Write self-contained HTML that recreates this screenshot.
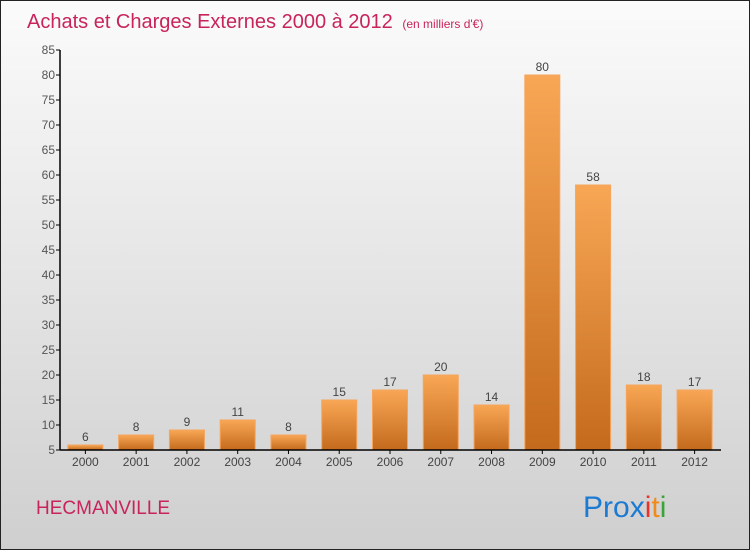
<!DOCTYPE html>
<html><head><meta charset="utf-8"><style>
body{margin:0;width:750px;height:550px;overflow:hidden;font-family:"Liberation Sans",sans-serif}
#wrap{position:relative;width:748px;height:548px;border:1px solid #222;background:linear-gradient(#fbfbfb,#cfcfcf)}
</style></head><body>
<div id="wrap">
<svg id="svg" width="748" height="548" style="position:absolute;left:0;top:0">
<defs><linearGradient id="bg" x1="0" y1="0" x2="0" y2="1"><stop offset="0" stop-color="#f8a755"/><stop offset="1" stop-color="#c46a1d"/></linearGradient></defs>
<text x="26" y="27" font-size="20" fill="#c8245a">Achats et Charges Externes 2000 à 2012 <tspan font-size="12" dx="4">(en milliers d'€)</tspan></text>
<text x="35" y="513" font-size="19" fill="#c8245a">HECMANVILLE</text>
<text x="582" y="516" font-size="30"><tspan fill="#1a7ad4">Pro</tspan><tspan fill="#1a7ad4">x</tspan><tspan fill="#e8322a">i</tspan><tspan fill="#f08a1a">t</tspan><tspan fill="#3aa43a">i</tspan></text>
<g id="plot"></g>
</svg></div>
<script>
const categories=["2000","2001","2002","2003","2004","2005","2006","2007","2008","2009","2010","2011","2012"];
const values=[6,8,9,11,8,15,17,20,14,80,58,18,17];
const yTicks=[5,10,15,20,25,30,35,40,45,50,55,60,65,70,75,80,85];
const NS="http://www.w3.org/2000/svg";
const X0=59,W=660,Y0=449,YMIN=5,YMAX=85,H=400;
const y=v=>Y0-(v-YMIN)/(YMAX-YMIN)*H;
const step=W/categories.length;
const xc=i=>X0+step*(i+0.5);
const g=document.getElementById('plot');
function mk(t,a){const e=document.createElementNS(NS,t);for(const k in a)e.setAttribute(k,a[k]);g.appendChild(e);return e;}
values.forEach((v,i)=>{
 const r=mk('rect',{x:xc(i)-17.5,y:y(v),width:35,height:Y0-y(v),fill:'url(#bg)',stroke:'#f5a55c','stroke-width':1});
 
 
 const t=mk('text',{x:xc(i),y:y(v)-4,'text-anchor':'middle','font-size':12,fill:'#444'});t.textContent=v;
 
 
 const c=mk('text',{x:xc(i),y:Y0+16,'text-anchor':'middle','font-size':12,fill:'#444'});c.textContent=categories[i];
 
 
 mk('line',{x1:xc(i),x2:xc(i),y1:Y0,y2:Y0+4,stroke:'#000'});
});
yTicks.forEach(v=>{
 mk('line',{x1:X0-4,x2:X0,y1:y(v),y2:y(v),stroke:'#000'});
 const t=mk('text',{x:X0-5,y:y(v)+4,'text-anchor':'end','font-size':12,fill:'#555'});t.textContent=v;
 
 
});
const ya=mk('line',{x1:X0,x2:X0,y1:y(YMAX),y2:Y0,stroke:'#000','stroke-width':1.5});


const xa=mk('line',{x1:X0,x2:X0+W+1,y1:Y0,y2:Y0,stroke:'#000','stroke-width':1.5});


</script>
</body></html>
